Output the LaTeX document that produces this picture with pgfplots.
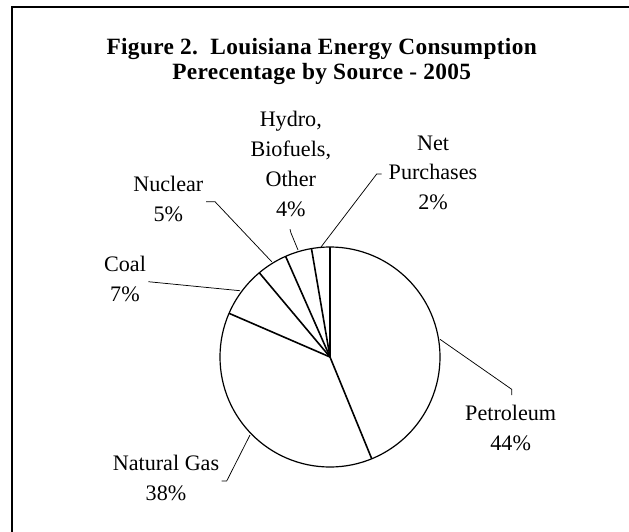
\documentclass[border=0pt]{standalone}
\usepackage{pgfplots}
\pgfplotsset{compat=1.18}
\usepackage{fontspec}
\setmainfont{Liberation Serif}
\newfontfamily\titlefont[LetterSpace=1.5]{Liberation Serif}
\newfontfamily\lblfont{Liberation Serif}
\newcommand\lbl[3]{\node[anchor=base,inner sep=0pt,font=\lblfont\fontsize{16.6}{20}\selectfont] at (#1,-#2) {#3};}
\begin{document}
\begin{tikzpicture}[x=0.75pt,y=0.75pt]
\useasboundingbox (0,0) rectangle (629,-532);
\draw[line width=1pt] (12,-532) -- (12,-7) -- (629,-7);
\node[anchor=base,inner sep=0pt,font=\titlefont\bfseries\fontsize{17.5}{21}\selectfont] at (321.7,-54.5) {Figure 2.\ \ Louisiana Energy Consumption};
\node[anchor=base,inner sep=0pt,font=\titlefont\bfseries\fontsize{17.5}{21}\selectfont] at (321.7,-79) {Perecentage by Source - 2005};
\coordinate (pc) at (330,-357);
\begin{axis}[at={(pc)}, anchor=center, width=165pt, height=165pt,
  scale only axis, xmin=-1, xmax=1, ymin=-1, ymax=1, hide axis, clip=false]
% slice boundaries (clockwise from top): Petroleum 43.8, Natural Gas 37.7,
% Coal 7.4, Nuclear 4.5, Hydro/Biofuels/Other 3.9, Net Purchases 2.7 (percent)
\addplot[black, line width=1.2pt, data cs=polar] coordinates {(0,0) (90,1)};
\addplot[black, line width=1.2pt, data cs=polar] coordinates {(0,0) (-67.7,1)};
\addplot[black, line width=1.2pt, data cs=polar] coordinates {(0,0) (156.6,1)};
\addplot[black, line width=1.2pt, data cs=polar] coordinates {(0,0) (130,1)};
\addplot[black, line width=1.2pt, data cs=polar] coordinates {(0,0) (113.8,1)};
\addplot[black, line width=1.2pt, data cs=polar] coordinates {(0,0) (99.7,1)};
\draw[black, line width=0.9pt] (axis cs:0,0) circle[radius=1];
\end{axis}
\begin{scope}[line width=0.55pt]
\draw (440,-339.3) -- (511.7,-389.3) -- (511.7,-395);
\draw (250,-435) -- (226.7,-481) -- (221.7,-481);
\draw (240,-290.7) -- (148.3,-281.7);
\draw (271.7,-261.7) -- (215,-201.7) -- (206,-201.7);
\draw (298,-250) -- (291,-233) -- (290,-229.3);
\draw (320.7,-247.4) -- (376.7,-174) -- (381.7,-174);
\end{scope}
\lbl{290.8}{126}{Hydro,}
\lbl{290.8}{156}{Biofuels,}
\lbl{290.8}{186}{Other}
\lbl{290.8}{216}{4\%}
\lbl{433}{150}{Net}
\lbl{433}{179}{Purchases}
\lbl{433}{209}{2\%}
\lbl{168.3}{191.7}{Nuclear}
\lbl{168.3}{221.7}{5\%}
\lbl{125}{271}{Coal}
\lbl{125}{301.7}{7\%}
\lbl{510.7}{420.7}{Petroleum}
\lbl{510.7}{450.7}{44\%}
\lbl{166}{470.7}{Natural Gas}
\lbl{166}{500.7}{38\%}
\end{tikzpicture}
\end{document}
